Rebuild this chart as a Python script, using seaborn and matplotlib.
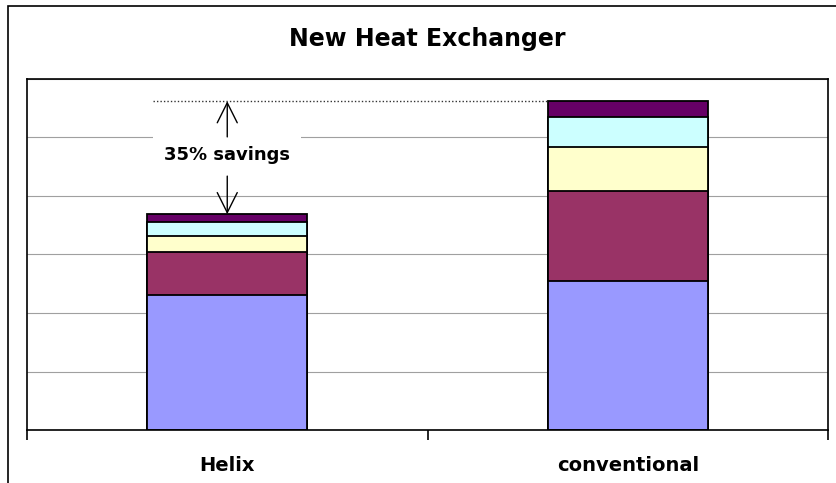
import matplotlib
matplotlib.use("Agg")
import matplotlib.pyplot as plt
import numpy as np
import pandas as pd
import seaborn as sns
from matplotlib.patches import Rectangle

# values (gridline spacing = 1 unit)
categories = ["Helix", "conventional"]
seg_blue = [2.30, 2.55]
seg_maroon = [0.74, 1.54]
seg_yellow = [0.28, 0.74]
seg_cyan = [0.24, 0.52]
seg_purple = [0.13, 0.27]
savings_label = "35% savings"

colors = ["#9999FF", "#993366", "#FFFFCC", "#CCFFFF", "#660066"]
segments = [seg_blue, seg_maroon, seg_yellow, seg_cyan, seg_purple]

sns.set_style("white")
plt.rcParams["font.family"] = ["DejaVu Sans"]
plt.rcParams["text.color"] = "black"
plt.rcParams["xtick.color"] = "black"
plt.rcParams["xtick.labelcolor"] = "black"

fig = plt.figure(figsize=(8.36, 4.83), dpi=100)
ax = fig.add_axes([27 / 836, 53 / 483, 801 / 836, 351 / 483])

# stacked bars: draw cumulative totals from the top segment down
cum = np.cumsum(np.array(segments), axis=0)
for i in range(len(segments) - 1, -1, -1):
    df = pd.DataFrame({"cat": categories, "val": cum[i]})
    sns.barplot(data=df, x="cat", y="val", color=colors[i], width=0.4,
                edgecolor="black", linewidth=1.3, saturation=1, ax=ax, zorder=2)

ax.set_xlim(-0.5, 1.5)
ax.set_ylim(0, 6)
ax.set_yticks(range(0, 7))
ax.set_yticklabels([])
ax.tick_params(axis="y", length=0)
ax.yaxis.grid(True, color="#a0a0a0", linewidth=0.8)
ax.set_axisbelow(True)

ax.set_xticks([0, 1])
ax.set_xticklabels(categories, fontsize=14, fontweight="bold", color="black")
ax.tick_params(axis="x", which="major", length=0, pad=19)
ax.set_xticks([-0.5, 0.5, 1.5], minor=True)
ax.tick_params(axis="x", which="minor", bottom=True, length=7, width=1.2,
               color="black", direction="out")
ax.set_xlabel("")
ax.set_ylabel("")
for s in ax.spines.values():
    s.set_visible(True)
    s.set_color("black")
    s.set_linewidth(1.2)

# savings annotation
tot = cum[-1]
ax.plot([-0.185, 0.8], [tot[1], tot[1]], linestyle=(0, (1, 1.5)), color="#333333",
        linewidth=1, zorder=3)
ax.text(0, 4.607, savings_label, ha="center", va="baseline", fontsize=13,
        fontweight="bold", color="black", zorder=4,
        bbox=dict(boxstyle="square,pad=0.6", facecolor="white", edgecolor="none"))
ax.annotate("", xy=(0, tot[1]), xytext=(0, 5.01),
            arrowprops=dict(arrowstyle="->", lw=1, color="black", mutation_scale=36,
                            shrinkA=0, shrinkB=0), zorder=5)
ax.annotate("", xy=(0, tot[0]), xytext=(0, 4.34),
            arrowprops=dict(arrowstyle="->", lw=1, color="black", mutation_scale=36,
                            shrinkA=0, shrinkB=0), zorder=5)

fig.text(427.5 / 836, 1 - 46 / 483, "New Heat Exchanger", ha="center", va="baseline",
         fontsize=17, fontweight="bold", color="black")

# outer chart frame
fig.patches.append(Rectangle((8 / 836, -0.2), 1.2, 0.2 + (483 - 6) / 483,
                             transform=fig.transFigure, fill=False,
                             edgecolor="black", linewidth=1.2))

fig.savefig("out.png", dpi=100)
